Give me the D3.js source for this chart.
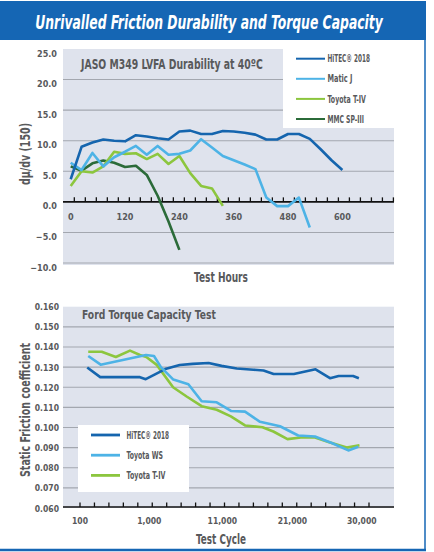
<!DOCTYPE html>
<html>
<head>
<meta charset="utf-8">
<script src="https://cdn.jsdelivr.net/npm/d3@7"></script>
<style>
  body { margin: 0; background: #fff; }
  svg { display: block; }
  text { font-family: "Liberation Sans Narrow", "DejaVu Sans Condensed", sans-serif; font-weight: bold; fill: #58595b; }
</style>
</head>
<body>
<svg id="chart"></svg>
<script>
// --- durability test (top chart) ---
const testHours = [0, 24, 48, 72, 96, 120, 144, 168, 192, 216, 240, 264, 288, 312, 336,
                   360, 384, 408, 432, 456, 480, 504, 528, 552, 576, 600];
const hitecDurability = [3.7, 9.0, 9.7, 10.2, 10.0, 9.9, 10.9, 10.7, 10.4, 10.2, 11.5, 11.65, 11.1,
                         11.1, 11.6, 11.5, 11.3, 11.0, 10.2, 10.2, 11.1, 11.1, 10.3, 8.6, 6.8, 5.2];
const maticJDurability = [6.4, 5.2, 8.0, 5.8, 7.3, 8.2, 9.15, 7.7, 9.15, 7.7, 7.85, 8.4, 10.25,
                          8.9, 7.5, 6.8, 6.1, 5.35, 0.7, -0.7, -0.7, 0.7, -4.2];
const toyotaDurability = [2.6, 5.0, 4.8, 5.8, 8.2, 7.85, 7.95, 7.0, 7.85, 6.2, 7.5, 4.7, 2.6, 2.2, -0.65];
const mmcDurability = [5.8, 5.1, 6.3, 6.75, 6.4, 5.7, 5.9, 4.4, 1.0, -3.2, -7.85];
const hourLabels = [0, 120, 240, 360, 480, 600];
const durabilityTicks = [25, 20, 15, 10, 5, 0, -5, -10];

// --- torque capacity test (bottom chart), x = position along the cycle axis ---
const hitecCyclePos = [0.5, 1.4, 4.15, 4.55, 5.9, 6.9, 7.8, 8.9, 9.8, 10.85, 12.0, 12.7,
                       13.4, 14.8, 16.3, 17.3, 17.9, 18.9, 19.3];
const hitecFriction = [0.1298, 0.125, 0.125, 0.124, 0.129, 0.131, 0.1316, 0.132, 0.1306, 0.1293,
                       0.1287, 0.1283, 0.1266, 0.1266, 0.1289, 0.1245, 0.1256, 0.1256, 0.1245];
const wsCyclePos = [0.57, 1.43, 4.57, 5.12, 5.6, 6.46, 7.5, 8.42, 9.46, 10.45, 11.42, 12.46,
                    13.84, 15.1, 16.26, 17.42, 18.57, 19.26];
const wsFriction = [0.1355, 0.1312, 0.136, 0.1355, 0.1300, 0.1238, 0.1215, 0.113, 0.1125, 0.1082,
                    0.1079, 0.1028, 0.1006, 0.096, 0.0955, 0.0923, 0.0886, 0.0904];
const t4CyclePos = [0.57, 1.5, 2.48, 3.46, 4.15, 4.59, 5.31, 6.44, 7.38, 8.42, 9.46, 10.44,
                    11.42, 12.63, 13.38, 14.36, 15.28, 16.26, 17.19, 18.46, 19.34];
const t4Friction = [0.1376, 0.1376, 0.135, 0.1382, 0.136, 0.135, 0.1311, 0.12, 0.1154, 0.1106,
                    0.1088, 0.1055, 0.101, 0.1001, 0.098, 0.0942, 0.095, 0.095, 0.0928, 0.09, 0.0912];
const cycleLabels = ["100", "1,000", "11,000", "21,000", "30,000"];
const cycleLabelPos = [0, 4.8, 9.85, 14.7, 19.5];
const frictionTicks = [0.16, 0.15, 0.14, 0.13, 0.12, 0.11, 0.10, 0.09, 0.08, 0.07, 0.06];

const width = 434, height = 552;
const blue = "#1565ae", lightBlue = "#4db3e6", green = "#8cc63e", darkGreen = "#2b6b39";
const plotBg = "#dfe3ed", gridColor = "#a3a7af";

const svg = d3.select("#chart").attr("width", width).attr("height", height);

// text squeezed to the width it has in the original (which uses a condensed face)
function label(parent, x, y, str, size, len, opts = {}) {
  const g = parent.append("g").attr("transform", `translate(${x},${y}) rotate(${opts.rotate || 0})`);
  const t = g.append("text").attr("text-anchor", opts.anchor || "start")
      .style("font-size", size + "px").text(str);
  if (opts.fill) t.style("fill", opts.fill);
  if (opts.italic) t.style("font-style", "italic");
  const natural = t.node().getComputedTextLength();
  t.attr("transform", `scale(${len / natural},1)`);
  return t;
}

// header band + frame
svg.append("rect").attr("x", 0).attr("y", 1).attr("width", 426).attr("height", 39).attr("fill", "#1566b4");
label(svg, 209, 28.5, "Unrivalled Friction Durability and Torque Capacity", 19.5, 348,
      {anchor: "middle", fill: "#fff", italic: true});
svg.append("line").attr("x1", 425).attr("x2", 425).attr("y1", 40).attr("y2", 551)
    .attr("stroke", "#1566b4").attr("stroke-width", 1.5);
svg.append("line").attr("x1", 0).attr("x2", 426).attr("y1", 550).attr("y2", 550)
    .attr("stroke", "#1566b4").attr("stroke-width", 2.5);

// ---------- top chart ----------
const left = 63, right = 394;
const x1 = d3.scaleLinear().domain([-17, 714]).range([left, right]);
const y1 = d3.scaleLinear().domain([-10, 25]).range([263, 49]);

const g1 = svg.append("g");
g1.append("rect").attr("x", left).attr("y", y1(25)).attr("width", right - left)
    .attr("height", y1(-10) - y1(25) + 2).attr("fill", plotBg);
g1.selectAll(".grid").data(durabilityTicks.filter(d => d !== 0 && d !== 25)).join("line")
    .attr("x1", left).attr("x2", right).attr("y1", d => y1(d)).attr("y2", d => y1(d))
    .attr("stroke", gridColor).attr("stroke-width", 1.1);
// legend box
g1.append("rect").attr("x", 283).attr("y", y1(25)).attr("width", right - 283).attr("height", 79).attr("fill", "#fff");

g1.selectAll(".ylab").data(durabilityTicks).join("text")
    .attr("x", 57).attr("y", d => y1(d) + 7.5).attr("text-anchor", "end")
    .style("font-size", "9px").text(d => d3.format(".1f")(d));

// zero axis with ticks
const hourTicks = d3.range(8, 715, 24.3);
g1.append("line").attr("x1", left).attr("x2", right).attr("y1", y1(0)).attr("y2", y1(0))
    .attr("stroke", "#111").attr("stroke-width", 1.6);
g1.selectAll(".tick").data(hourTicks).join("line")
    .attr("x1", d => x1(d)).attr("x2", d => x1(d)).attr("y1", y1(0)).attr("y2", y1(0) - 4.5)
    .attr("stroke", "#111").attr("stroke-width", 1.3);
g1.selectAll(".xlab").data(hourLabels).join("text")
    .attr("x", d => x1(d)).attr("y", 219.5).attr("text-anchor", "middle")
    .style("font-size", "9px").text(d => d);

const line1 = d3.line().x((d, i) => x1(testHours[i])).y(d => y1(d));
const topSeries = [
  {name: "HiTEC® 2018", values: hitecDurability, color: blue, w: 42.5},
  {name: "Matic J", values: maticJDurability, color: lightBlue, w: 25},
  {name: "Toyota T-IV", values: toyotaDurability, color: green, w: 38.5},
  {name: "MMC SP-III", values: mmcDurability, color: darkGreen, w: 36.5}
];
[...topSeries].reverse().forEach(s => {
  g1.append("path").datum(s.values).attr("d", line1)
    .attr("fill", "none").attr("stroke", s.color).attr("stroke-width", 2.6)
    .attr("stroke-linejoin", "round");
});

label(g1, 81, 68.5, "JASO M349 LVFA Durability at 40ºC", 14, 182);

topSeries.forEach((s, i) => {
  const yy = 58.7 + i * 20.1;
  g1.append("line").attr("x1", 296).attr("x2", 325).attr("y1", yy).attr("y2", yy)
    .attr("stroke", s.color).attr("stroke-width", 2);
  label(g1, 327.5, yy + 3.6, s.name, 10, s.w);
});

label(g1, 30, 154, "dμ/dv (150)", 13.5, 62, {anchor: "middle", rotate: -90});
label(g1, 221, 282, "Test Hours", 13.5, 54, {anchor: "middle"});

// ---------- bottom chart ----------
const x2 = d3.scaleLinear().domain([(left - 80) / 14.45, (right - 80) / 14.45]).range([left, right]);
const y2 = d3.scaleLinear().domain([0.06, 0.16]).range([508, 306.7]);

const g2 = svg.append("g");
g2.append("rect").attr("x", left).attr("y", y2(0.16)).attr("width", right - left)
    .attr("height", y2(0.06) - y2(0.16)).attr("fill", plotBg);
g2.selectAll(".grid").data(frictionTicks.filter(d => d > 0.065 && d < 0.155)).join("line")
    .attr("x1", left).attr("x2", right).attr("y1", d => y2(d)).attr("y2", d => y2(d))
    .attr("stroke", gridColor).attr("stroke-width", 1.1);
g2.selectAll(".ylab").data(frictionTicks).join("text")
    .attr("x", 59).attr("y", d => y2(d) + 3.5).attr("text-anchor", "end")
    .style("font-size", "8.5px").text(d => d3.format(".3f")(d));

g2.append("line").attr("x1", left).attr("x2", right).attr("y1", y2(0.06) - 1).attr("y2", y2(0.06) - 1)
    .attr("stroke", "#111").attr("stroke-width", 1.6);
g2.selectAll(".tick").data(d3.range(0, 21)).join("line")
    .attr("x1", d => x2(d)).attr("x2", d => x2(d)).attr("y1", y2(0.06) - 1).attr("y2", y2(0.06) - 5.5)
    .attr("stroke", "#111").attr("stroke-width", 1.3);
g2.selectAll(".xlab").data(cycleLabels).join("text")
    .attr("x", (d, i) => x2(cycleLabelPos[i])).attr("y", 523.5).attr("text-anchor", "middle")
    .style("font-size", "8.5px").text(d => d);

const botSeries = [
  {name: "HiTEC® 2018", pos: hitecCyclePos, values: hitecFriction, color: blue, w: 42.5},
  {name: "Toyota WS", pos: wsCyclePos, values: wsFriction, color: lightBlue, w: 36.5},
  {name: "Toyota T-IV", pos: t4CyclePos, values: t4Friction, color: green, w: 39}
];
[botSeries[2], botSeries[0], botSeries[1]].forEach(s => {
  const ln = d3.line().x((d, i) => x2(s.pos[i])).y(d => y2(d));
  g2.append("path").datum(s.values).attr("d", ln)
    .attr("fill", "none").attr("stroke", s.color).attr("stroke-width", 2.6)
    .attr("stroke-linejoin", "round");
});

g2.append("rect").attr("x", 78).attr("y", 425).attr("width", 111).attr("height", 67).attr("fill", "#fff");
botSeries.forEach((s, i) => {
  const yy = 435 + i * 20.2;
  g2.append("line").attr("x1", 91).attr("x2", 120).attr("y1", yy).attr("y2", yy)
    .attr("stroke", s.color).attr("stroke-width", 2.8);
  label(g2, 126.5, yy + 3.6, s.name, 10, s.w);
});

label(g2, 82, 319, "Ford Torque Capacity Test", 13, 134);
label(g2, 30, 410, "Static Friction coefficient", 13.5, 134, {anchor: "middle", rotate: -90});
label(g2, 221, 544, "Test Cycle", 13.5, 50, {anchor: "middle"});
</script>
</body>
</html>
